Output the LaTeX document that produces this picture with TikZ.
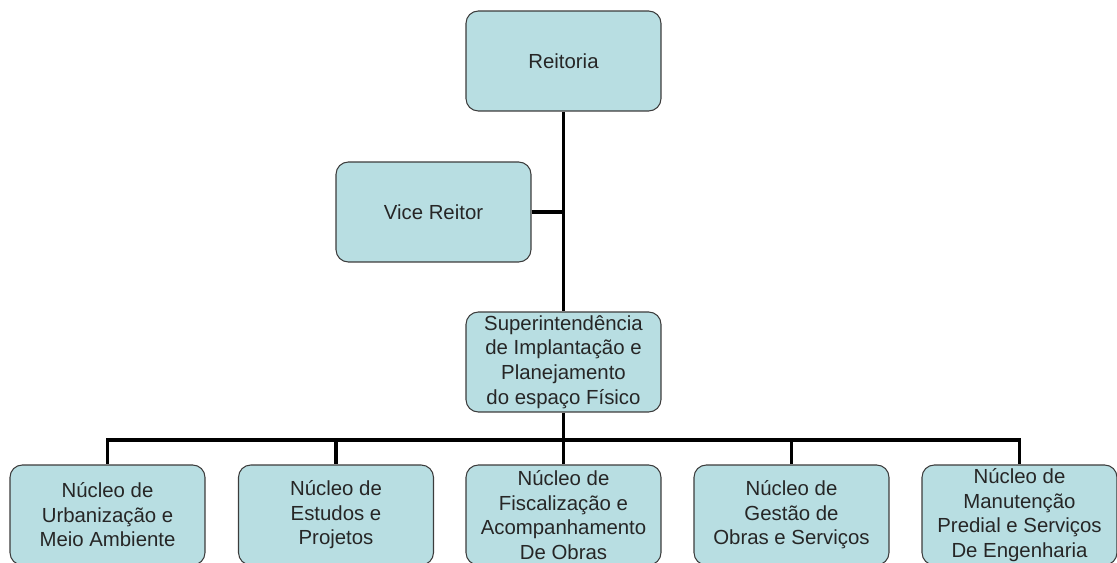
\documentclass[tikz,border=0pt]{standalone}
\usepackage{fontspec}
\setmainfont{Liberation Sans}
\usepackage{tikz}

\definecolor{boxfill}{RGB}{184,222,226}
\definecolor{boxline}{RGB}{60,60,60}

\begin{document}
\begin{tikzpicture}[x=0.02cm, y=-0.02cm,
    every node/.style={font=\fontsize{11.6}{14}\selectfont, align=center},
    unit/.style={draw=boxline, fill=boxfill, rounded corners=7pt, line width=.6pt,
      minimum width=3.9cm, minimum height=2cm, inner sep=0pt, text=black!85},
    link/.style={line width=2pt}]
    \useasboundingbox (0,0) rectangle (1117,563);
    \clip (0,0) rectangle (1117,563);

    \node [unit] (reit) at (563.5, 61) {Reitoria};
    \node [unit] (vice) at (433.5, 212) {Vice Reitor};
    \node [unit] (sup) at (563.5, 362) {Superintendência\\de Implantação e\\Planejamento\\do espaço Físico};

    \node [unit] (n1) at (107.5, 515) {Núcleo de\\Urbanização e\\Meio Ambiente};
    \node [unit] (n2) at (336, 515) {Núcleo de\\Estudos e\\Projetos};
    \node [unit] (n3) at (563.5, 515) {Núcleo de\\Fiscalização e\\Acompanhamento\\De Obras};
    \node [unit] (n4) at (791.5, 515) {Núcleo de\\Gestão de\\Obras e Serviços};
    \node [unit] (n5) at (1019.5, 515) {Núcleo de\\Manutenção\\Predial e Serviços\\De Engenharia};

    \coordinate (bus) at (563.5, 440);

    \draw [link] (reit) to (sup);
    \draw [link] (vice.east) to (vice.east -| reit.south);
    \draw [link] (sup) to (bus);
    \foreach \n in {n1, n2, n3, n4, n5}
      \draw [link] (bus) -| (\n.north);
  \end{tikzpicture}
\end{document}
